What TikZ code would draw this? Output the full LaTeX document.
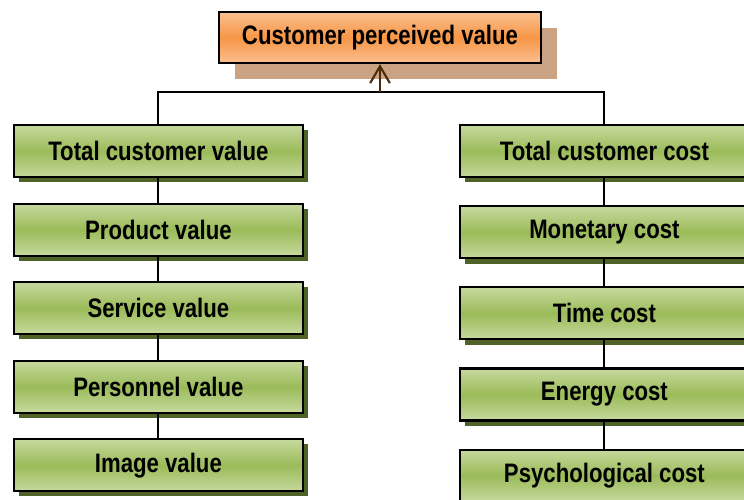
\documentclass[tikz,border=0pt]{standalone}
\usepackage{fontspec}
\setmainfont{Liberation Sans}[FakeStretch=0.83]
\usepackage{tikz}
\usetikzlibrary{positioning, shadows, arrows.meta}

\definecolor{greenlight}{RGB}{198,217,158}
\definecolor{greenmid}{RGB}{155,187,89}
\definecolor{greenshadow}{RGB}{79,98,40}
\definecolor{orangelight}{RGB}{250,192,144}
\definecolor{orangemid}{RGB}{247,150,70}
\definecolor{orangeshadow}{RGB}{203,162,130}
\definecolor{arrowbrown}{RGB}{74,42,12}

\begin{document}
\begin{tikzpicture}[auto, node distance=0.61cm,
  box/.style={rectangle,draw,line width=1.5pt,minimum width=7.225cm,minimum height=1.3cm,
    font=\fontsize{19}{22}\selectfont\bfseries},
  value node/.style={box,top color=greenlight,bottom color=greenlight,middle color=greenmid,
    drop shadow={shadow xshift=0.13cm,shadow yshift=-0.13cm,fill=greenshadow,opacity=1}},
  top node/.style={box,minimum width=8.05cm,minimum height=1.275cm,
    top color=orangelight,bottom color=orangelight,middle color=orangemid,
    drop shadow={shadow xshift=0.4cm,shadow yshift=-0.4cm,fill=orangeshadow,opacity=1}}]

\useasboundingbox (0,0) rectangle (18.6,-12.475);
\clip (0,0) rectangle (18.6,-12.475);

\node[top node] (CPV) at (9.5,-0.94) {Customer perceived value};

% left column
\node[value node] (TCV) at (3.96,-3.78) {Total customer value};
\node[value node] (PV) [below=of TCV] {Product value};
\node[value node] (SV) [below=of PV] {Service value};
\node[value node] (PEV) [below=of SV] {Personnel value};
\node[value node] (IV) [below=of PEV] {Image value};

% right column
\node[value node] (TCC) at (15.11,-3.78) {Total customer cost};
\node[value node] (MC) [below=0.675cm of TCC] {Monetary cost};
\node[value node] (TC) [below=0.675cm of MC] {Time cost};
\node[value node] (EC) [below=0.675cm of TC] {Energy cost};
\node[value node] (PC) [below=0.675cm of EC] {Psychological cost};

\coordinate (bar) at ([yshift=0.8cm]TCV.north);

\path[line width=1.3pt]
(TCV) edge (PV)
(PV) edge (SV)
(SV) edge (PEV)
(PEV) edge (IV)
(TCC) edge (MC)
(MC) edge (TC)
(TC) edge (EC)
(EC) edge (PC)
;

\draw[line width=1.3pt] (TCV.north) -- (bar) -| (TCC.north);
\draw[line width=1.5pt, arrowbrown, -{Straight Barb[length=12pt,width=14pt]}]
  (CPV.south |- bar) -- (CPV.south);

\end{tikzpicture}
\end{document}
